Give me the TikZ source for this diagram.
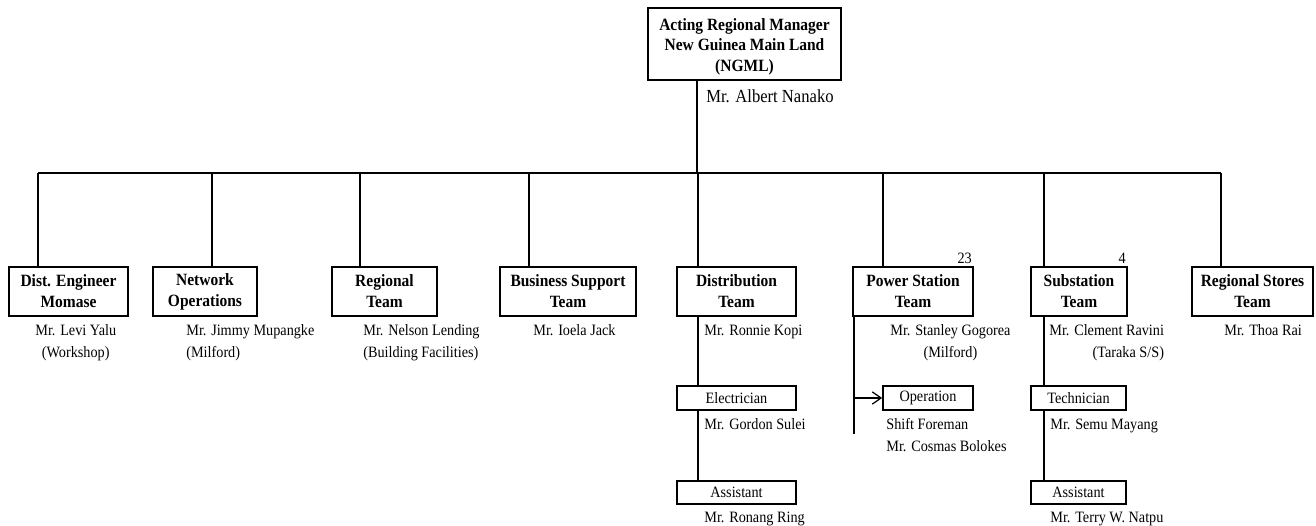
\documentclass[tikz,border=0pt]{standalone}
\usepackage{fontspec}
\setmainfont{Liberation Serif}[FakeStretch=0.9]
\usetikzlibrary{arrows.meta}
\tikzset{
  teambox/.style={draw, line width=1.1pt, minimum height=0.98cm, inner sep=0pt, align=center, font=\fontsize{9.8}{11.9}\selectfont\bfseries},
  rolebox/.style={draw, line width=1pt, minimum height=0.47cm, inner sep=0pt, font=\fontsize{9}{11}\selectfont},
  staff/.style={anchor=north west, inner sep=0pt, font=\fontsize{9}{12.5}\selectfont},
  count/.style={above left, inner sep=1pt, font=\fontsize{9}{11}\selectfont},
  link/.style={line width=0.7pt},
  heavy/.style={line width=1pt},
}
\begin{document}
\begin{tikzpicture}[x=0.02cm, y=-0.02cm]
\useasboundingbox (0,0) rectangle (1316,526);

% manager
\node[teambox, minimum width=3.86cm, minimum height=1.44cm] (mgr) at (744.5,44) {\rule{0pt}{10pt}Acting Regional Manager\\New Guinea Main Land\\(NGML)};
\node[staff, font=\fontsize{10.5}{12.5}\selectfont] (mgrname) at (706,89) {Mr. Albert Nanako};

% teams
\node[teambox, minimum width=2.38cm] (dist) at (68.5,291.5) {Dist. Engineer\\Momase};
\node[teambox, minimum width=2.08cm] (net) at (205,291.5) {Network\\Operations};
\node[teambox, minimum width=2.10cm] (reg) at (384.5,291.5) {Regional\\Team};
\node[teambox, minimum width=2.72cm] (bsup) at (568,291.5) {Business Support\\Team};
\node[teambox, minimum width=2.38cm] (distr) at (736.5,291.5) {Distribution\\Team};
\node[teambox, minimum width=2.40cm] (pwr) at (913,291.5) {Power Station\\Team};
\node[teambox, minimum width=1.92cm] (subst) at (1079,291.5) {Substation\\Team};
\node[teambox, minimum width=2.42cm] (stores) at (1252.5,291.5) {Regional Stores\\Team};

\node[count] (pwrcount) at (pwr.north east) {23};
\node[count] (substcount) at (subst.north east) {4};

% team heads
\node[staff, align=center] (distname) at (35,324.5) {Mr. Levi Yalu\\(Workshop)};
\node[staff, align=left] (netname) at (186,324.5) {Mr. Jimmy Mupangke\\(Milford)};
\node[staff, align=left] (regname) at (363,324.5) {Mr. Nelson Lending\\(Building Facilities)};
\node[staff] (bsupname) at (533,324.5) {Mr. Ioela Jack};
\node[staff] (distrname) at (704,324.5) {Mr. Ronnie Kopi};
\node[staff, align=center] (pwrname) at (890,324.5) {Mr. Stanley Gogorea\\(Milford)};
\node[staff, align=right] (substname) at (1049,324.5) {Mr. Clement Ravini\\(Taraka S/S)};
\node[staff] (storesname) at (1224,324.5) {Mr. Thoa Rai};

% sub roles
\node[rolebox, minimum width=2.38cm] (elec) at (736.5,398) {Electrician};
\node[rolebox, minimum width=2.38cm] (asst) at (736.5,492.5) {Assistant};
\node[rolebox, minimum width=1.80cm] (oper) at (928,398) {Operation};
\node[rolebox, minimum width=1.90cm] (tech) at (1078.5,398) {Technician};
\node[rolebox, minimum width=1.90cm] (sasst) at (1078.5,492.5) {Assistant};

\node[staff] (elecname) at (704,418.5) {Mr. Gordon Sulei};
\node[staff] (asstname) at (704,512) {Mr. Ronang Ring};
\node[staff, align=left] (opername) at (886,418.5) {Shift Foreman\\Mr. Cosmas Bolokes};
\node[staff] (techname) at (1050,418.5) {Mr. Semu Mayang};
\node[staff] (sasstname) at (1050,512) {Mr. Terry W. Natpu};

% bus
\coordinate (hub) at (697,173);
\draw[link] (hub |- mgr.south) -- (hub);
\draw[link] (38,173) -- (1221,173);
\foreach \n/\x in {dist/38, net/212, bsup/529, distr/698, subst/1044, stores/1221}
  \draw[link] (\x,173) -- (\x,173 |- \n.north);
\foreach \n/\x in {reg/360, pwr/883}
  \draw[heavy] (\x,173) -- (\x,173 |- \n.north);

% distribution branch
\draw[link] (698,0 |- distr.south) -- (698,0 |- elec.north);
\draw[link] (698,0 |- elec.south) -- (698,0 |- asst.north);

% power station branch
\coordinate (pend) at (854,434);
\draw[link] (pend |- pwr.south) -- (pend);
\draw[link, -{Straight Barb[length=5pt, width=7pt]}] (pend |- oper.west) -- (oper.west);

% substation branch
\draw[link] (1044,0 |- subst.south) -- (1044,0 |- tech.north);
\draw[link] (1044,0 |- tech.south) -- (1044,0 |- sasst.north);

\end{tikzpicture}
\end{document}
